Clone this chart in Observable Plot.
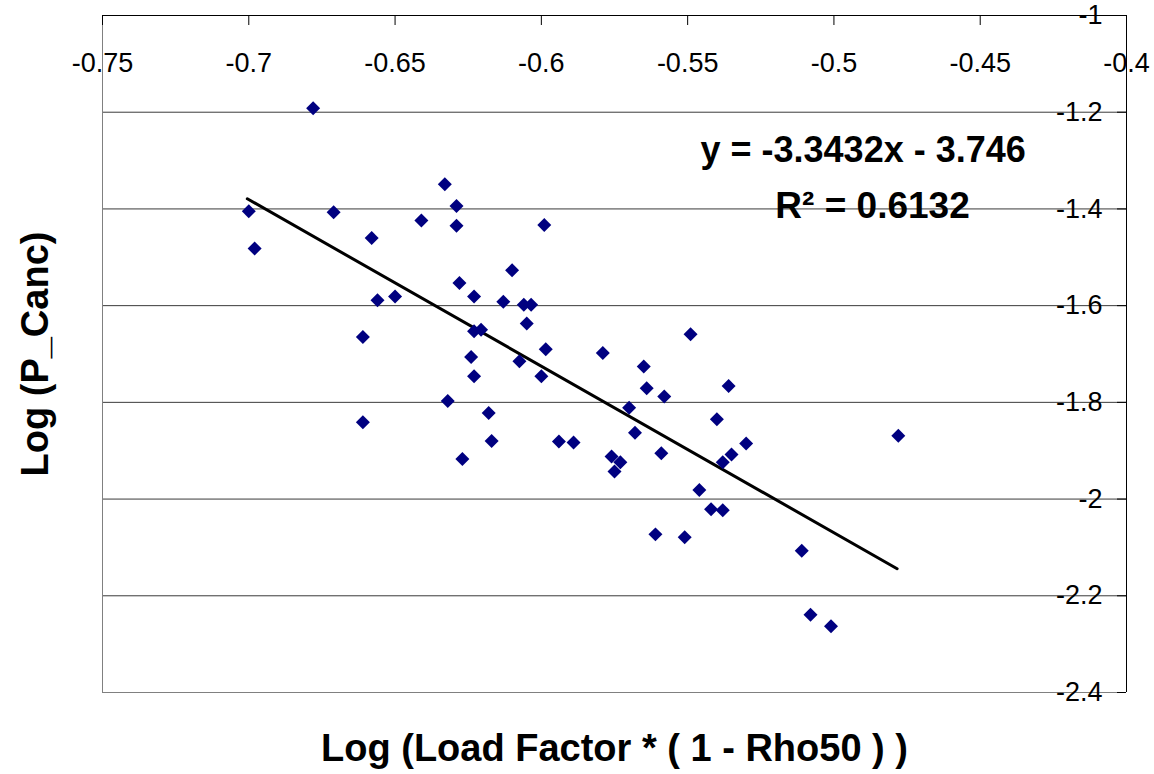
<!DOCTYPE html>
<html><head><meta charset="utf-8">
<script src="https://cdn.jsdelivr.net/npm/d3@7"></script>
<script src="https://cdn.jsdelivr.net/npm/@observablehq/plot@0.6"></script>
<style>
html,body{margin:0;padding:0;background:#fff;}
#chart svg{display:block;}
</style></head><body><div id="chart"></div>
<script>
// Log (Load Factor * (1 - Rho50))
const logLoadFactor = [
  -0.678, -0.700, -0.698, -0.671, -0.658, -0.641, -0.633, -0.629, -0.629, -0.656,
  -0.650, -0.628, -0.623, -0.610, -0.613, -0.606, -0.6035, -0.605, -0.623, -0.6206,
  -0.661, -0.661, -0.624, -0.623, -0.632, -0.618, -0.617, -0.627, -0.5985, -0.6075,
  -0.600, -0.579, -0.594, -0.589, -0.599, -0.549, -0.565, -0.564, -0.558, -0.536,
  -0.570, -0.568, -0.540, -0.530, -0.576, -0.573, -0.575, -0.559, -0.538, -0.535,
  -0.546, -0.542, -0.538, -0.561, -0.551, -0.511, -0.508, -0.501, -0.478
];
// Log (P_Canc)
const logPCanc = [
  -1.192, -1.405, -1.482, -1.407, -1.460, -1.424, -1.349, -1.394, -1.435, -1.589,
  -1.581, -1.553, -1.581, -1.527, -1.592, -1.598, -1.598, -1.637, -1.653, -1.650,
  -1.665, -1.841, -1.706, -1.746, -1.797, -1.822, -1.880, -1.917, -1.690, -1.715,
  -1.746, -1.698, -1.881, -1.883, -1.433, -1.659, -1.726, -1.771, -1.788, -1.766,
  -1.811, -1.863, -1.835, -1.885, -1.912, -1.924, -1.943, -1.905, -1.924, -1.908,
  -1.981, -2.021, -2.023, -2.073, -2.079, -2.107, -2.239, -2.263, -1.869
];
const xTicks = [-0.75, -0.7, -0.65, -0.6, -0.55, -0.5, -0.45, -0.4];
const yTicks = [-1, -1.2, -1.4, -1.6, -1.8, -2, -2.2, -2.4];
const trendX = [-0.7005, -0.4784];
const trendY = [-1.379, -2.144];
const equationText = "y = -3.3432x - 3.746";
const r2Text = "R\u00B2 = 0.6132";
const xTitle = "Log (Load Factor * ( 1 - Rho50 ) )";
const yTitle = "Log (P_Canc)";

const points = logLoadFactor.map((x, i) => ({x, y: logPCanc[i]}));
const trend = trendX.map((x, i) => ({x, y: trendY[i]}));

const W = 1154, H = 774;
const mL = 102, mR = 28, mT = 15, mB = 82;
const innerW = W - mL - mR, innerH = H - mT - mB;
const font = "'Liberation Sans', Arial, Helvetica, sans-serif";

const chart = Plot.plot({
  width: W, height: H,
  marginLeft: mL, marginRight: mR, marginTop: mT, marginBottom: mB,
  style: {fontFamily: font, background: "#fff", overflow: "visible"},
  x: {domain: [-0.75, -0.4], axis: null},
  y: {domain: [-2.4, -1], axis: null},
  marks: [
    // gridlines
    Plot.ruleY(yTicks, {stroke: "#3a3a3a", strokeWidth: 1}),
    // plot area border (left, bottom)
    Plot.ruleX([-0.75], {stroke: "#808080", strokeWidth: 1}),
    Plot.ruleY([-2.4], {stroke: "#808080", strokeWidth: 1}),
    // axes lines (top x axis, right y axis)
    Plot.ruleY([-1], {stroke: "#000", strokeWidth: 1}),
    Plot.ruleX([-0.4], {stroke: "#000", strokeWidth: 1}),
    // inward tick marks
    Plot.ruleX(xTicks, {stroke: "#000", strokeWidth: 1, insetBottom: innerH - 10}),
    Plot.ruleY(yTicks, {stroke: "#000", strokeWidth: 1, insetLeft: innerW - 9}),
    // tick labels
    Plot.text(xTicks, {x: d => d, text: d => String(d), frameAnchor: "top", lineAnchor: "middle",
      dy: 48, fontSize: 27, fill: "#000"}),
    Plot.text(yTicks, {y: d => d, text: d => String(d), frameAnchor: "right", textAnchor: "end",
      lineAnchor: "middle", dx: -24, fontSize: 27, fill: "#000"}),
    // trend line
    Plot.line(trend, {x: "x", y: "y", stroke: "#000", strokeWidth: 3}),
    // data points
    Plot.dot(points, {x: "x", y: "y", symbol: "diamond2", r: 6.3, fill: "#000080", stroke: "none"}),
    // equation & R²
    Plot.text([equationText], {x: -0.5456, y: -1.279, text: d => d, textAnchor: "start",
      fontSize: 36, fontWeight: "bold", fill: "#000"}),
    Plot.text([r2Text], {x: -0.4868, y: -1.395, text: d => d, textAnchor: "middle",
      fontSize: 37, fontWeight: "bold", fill: "#000"}),
    // axis titles
    Plot.text([xTitle], {text: d => d, frameAnchor: "bottom", lineAnchor: "middle", textAnchor: "middle",
      dy: 56, fontSize: 38, fontWeight: "bold", fill: "#000"}),
    Plot.text([yTitle], {text: d => d, frameAnchor: "left", lineAnchor: "middle", textAnchor: "middle",
      dx: -67, rotate: -90, fontSize: 38, fontWeight: "bold", fill: "#000"})
  ]
});
document.getElementById("chart").appendChild(chart);
</script>
</body></html>
